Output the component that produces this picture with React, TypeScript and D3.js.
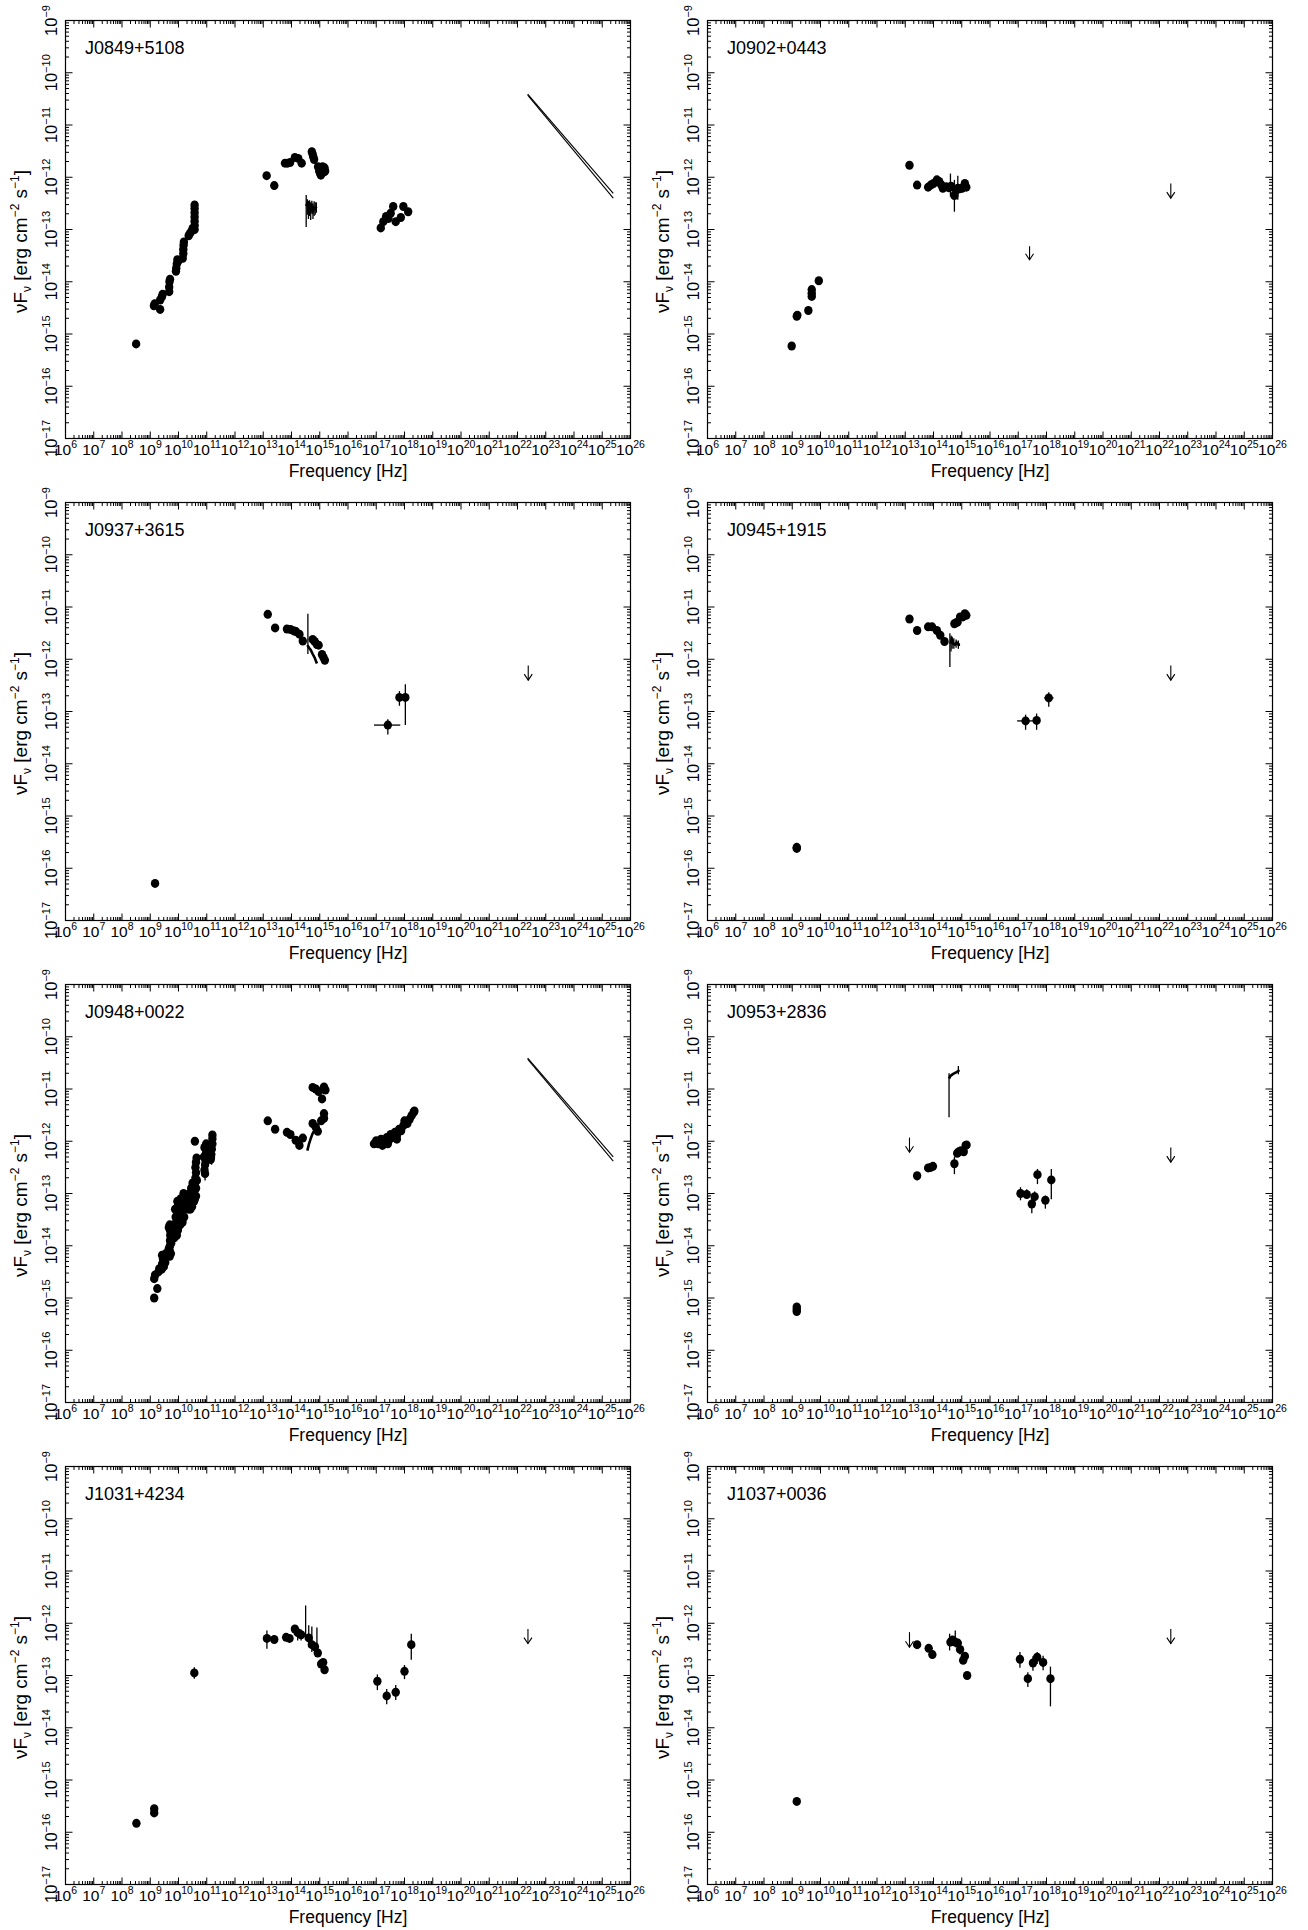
import React from "react";
import * as d3 from "d3";

// ---------------- tick labels ----------------
const X_EXPONENTS = [6, 7, 8, 9, 10, 11, 12, 13, 14, 15, 16, 17, 18, 19, 20, 21, 22, 23, 24, 25, 26];
const Y_EXPONENTS = [-9, -10, -11, -12, -13, -14, -15, -16, -17];
const MINOR_MULT = [2, 3, 4, 5, 6, 7, 8, 9];

const SOURCE_NAMES = [
  "J0849+5108", "J0902+0443", "J0937+3615", "J0945+1915",
  "J0948+0022", "J0953+2836", "J1031+4234", "J1037+0036",
];

// All values are [log10(nu/Hz), log10(nuFnu)]
// VERR: [logNu, logTop, logBottom]; HERR: [logF, logNuLo, logNuHi]
// SPEC: polyline; UL: [logNu, logTop, logTip]; BOW: line pairs

// ---------- J0849+5108 ----------
const J0849_DOTS: number[][] = [
  [8.5, -15.19],
  [9.13, -14.46], [9.16, -14.42], [9.35, -14.53], [9.35, -14.35], [9.41, -14.29], [9.44, -14.24],
  [9.67, -14.19], [9.67, -14.1], [9.68, -14.0], [9.7, -13.95],
  [9.91, -13.8], [9.92, -13.74], [9.94, -13.66], [9.96, -13.58], [10.0, -13.6],
  [10.15, -13.55], [10.17, -13.46], [10.17, -13.38], [10.18, -13.3], [10.19, -13.24],
  [10.36, -13.12], [10.4, -13.08], [10.45, -13.04], [10.5, -12.98],
  [10.57, -13.0], [10.57, -12.92], [10.57, -12.84], [10.57, -12.76], [10.57, -12.68], [10.57, -12.6], [10.57, -12.53],
  [13.12, -11.97], [13.39, -12.16], [13.77, -11.73], [13.86, -11.73], [13.95, -11.72],
  [14.12, -11.62], [14.24, -11.64], [14.36, -11.73],
  [14.72, -11.51], [14.75, -11.56], [14.77, -11.61], [14.8, -11.66],
  [14.94, -11.8], [14.98, -11.88], [15.02, -11.93], [15.06, -11.85], [15.1, -11.8],
  [15.14, -11.9], [15.17, -11.82], [15.19, -11.88], [15.04, -11.96],
  [17.16, -12.97], [17.25, -12.85], [17.35, -12.75], [17.43, -12.79], [17.51, -12.69],
  [17.6, -12.56], [17.69, -12.85], [17.87, -12.77], [17.96, -12.56], [18.13, -12.66],
];
const J0849_VERR: number[][] = [
  [14.52, -12.34, -12.95], [14.56, -12.42, -12.72], [14.6, -12.45, -12.8], [14.64, -12.44, -12.74],
  [14.68, -12.48, -12.82], [14.72, -12.45, -12.7], [14.76, -12.5, -12.8], [14.8, -12.46, -12.74],
  [14.84, -12.48, -12.72], [14.88, -12.48, -12.68],
];
const J0849_HERR: number[][] = [];
const J0849_SPEC: number[][] = [
  [14.52, -12.55], [14.56, -12.5], [14.6, -12.6], [14.64, -12.55], [14.68, -12.62],
  [14.72, -12.56], [14.76, -12.64], [14.8, -12.58], [14.84, -12.6], [14.88, -12.56],
];
const J0849_UL: number[][] = [];
const J0849_BOW: number[][][] = [
  [[22.36, -10.41], [25.39, -12.31]],
  [[22.36, -10.43], [25.39, -12.4]],
];

// ---------- J0902+0443 ----------
const J0902_DOTS: number[][] = [
  [8.98, -15.23], [9.16, -14.66], [9.18, -14.64], [9.57, -14.55],
  [9.69, -14.15], [9.69, -14.22], [9.69, -14.28], [9.94, -13.98],
  [13.15, -11.77], [13.42, -12.15], [13.81, -12.19], [13.9, -12.15], [14.0, -12.12],
  [14.12, -12.05], [14.2, -12.08], [14.27, -12.14], [14.33, -12.21], [14.45, -12.18],
  [14.55, -12.2], [14.62, -12.17], [14.74, -12.35], [14.8, -12.25], [14.86, -12.21],
  [14.93, -12.22], [15.01, -12.21], [15.08, -12.18], [15.11, -12.12], [15.16, -12.19],
];
const J0902_VERR: number[][] = [
  [14.6, -11.93, -12.37], [14.74, -12.05, -12.66], [14.86, -11.97, -12.43],
];
const J0902_HERR: number[][] = [];
const J0902_SPEC: number[][] = [];
const J0902_UL: number[][] = [
  [17.4, -13.32, -13.58], [22.4, -12.12, -12.4],
];
const J0902_BOW: number[][][] = [];

// ---------- J0937+3615 ----------
const J0937_DOTS: number[][] = [
  [9.17, -16.29],
  [13.16, -11.14], [13.42, -11.4], [13.84, -11.42], [13.97, -11.43], [14.1, -11.46],
  [14.16, -11.47], [14.28, -11.52], [14.4, -11.65], [14.75, -11.62], [14.82, -11.66],
  [14.9, -11.72], [14.96, -11.73], [15.08, -11.91], [15.13, -11.96], [15.18, -12.02],
  [17.41, -13.26], [17.82, -12.73], [18.03, -12.73],
];
const J0937_VERR: number[][] = [
  [14.58, -11.13, -11.9],
  [17.41, -13.15, -13.44], [17.82, -12.61, -12.89], [18.03, -12.48, -13.26],
];
const J0937_HERR: number[][] = [
  [-13.26, 16.92, 17.85], [-12.73, 17.74, 17.9],
];
const J0937_SPEC: number[][] = [
  [14.56, -11.73], [14.62, -11.78], [14.68, -11.82], [14.75, -11.9], [14.82, -11.97], [14.9, -12.08],
];
const J0937_UL: number[][] = [[22.38, -12.12, -12.4]];
const J0937_BOW: number[][][] = [];

// ---------- J0945+1915 ----------
const J0945_DOTS: number[][] = [
  [9.16, -15.62], [9.16, -15.6],
  [13.15, -11.23], [13.42, -11.45], [13.81, -11.38], [13.95, -11.38], [14.12, -11.45],
  [14.24, -11.54], [14.39, -11.66], [14.74, -11.32], [14.8, -11.3], [14.85, -11.29],
  [14.94, -11.19], [15.04, -11.19], [15.11, -11.13], [15.16, -11.16],
  [17.26, -13.18], [17.65, -13.17], [18.08, -12.74],
];
const J0945_VERR: number[][] = [
  [14.58, -11.5, -12.15], [14.62, -11.55, -11.85], [14.66, -11.58, -11.8], [14.72, -11.6, -11.8],
  [14.8, -11.62, -11.78], [14.88, -11.64, -11.8],
  [17.26, -13.06, -13.35], [17.65, -13.04, -13.35], [18.08, -12.63, -12.91],
];
const J0945_HERR: number[][] = [
  [-13.18, 16.96, 17.56], [-12.74, 17.92, 18.25],
];
const J0945_SPEC: number[][] = [
  [14.6, -11.7], [14.65, -11.62], [14.7, -11.7], [14.76, -11.72], [14.82, -11.68], [14.88, -11.72], [14.94, -11.72],
];
const J0945_UL: number[][] = [[22.4, -12.12, -12.4]];
const J0945_BOW: number[][][] = [];

// ---------- J0948+0022 ----------
const J0948_DOTS: number[][] = [
  [9.14, -15.0], [9.25, -14.82], [9.14, -14.63], [9.17, -14.56], [9.29, -14.5], [9.32, -14.44],
  [9.4, -14.45], [9.45, -14.38], [9.5, -14.3], [9.52, -14.22], [9.55, -14.15], [9.45, -14.25],
  [9.42, -14.35], [9.48, -14.4], [9.5, -14.2], [9.53, -14.32], [9.42, -14.18],
  [9.69, -14.2], [9.69, -14.1], [9.7, -14.0], [9.7, -13.9], [9.71, -13.8], [9.7, -13.7], [9.69, -13.6],
  [9.66, -13.65], [9.73, -13.75], [9.74, -13.95], [9.66, -14.05], [9.73, -14.15], [9.74, -13.62],
  [9.85, -13.85], [9.88, -13.75], [9.9, -13.65], [9.92, -13.55], [9.93, -13.45], [9.95, -13.35], [9.97, -13.25], [9.96, -13.15],
  [9.86, -13.6], [9.9, -13.45], [9.94, -13.8], [9.98, -13.5], [10.0, -13.35], [9.88, -13.3], [9.98, -13.7],
  [10.06, -13.6], [10.08, -13.5], [10.1, -13.4], [10.12, -13.3], [10.15, -13.2], [10.17, -13.1], [10.18, -13.0], [10.2, -13.45], [10.14, -13.55],
  [10.05, -13.35], [10.1, -13.2], [10.15, -13.45], [10.2, -13.3], [10.22, -13.15], [10.24, -13.05], [10.08, -13.1],
  [10.35, -13.3], [10.4, -13.2], [10.45, -13.1], [10.5, -13.0], [10.55, -12.9], [10.58, -12.8], [10.6, -12.7], [10.62, -12.6],
  [10.48, -13.25], [10.55, -13.15], [10.62, -13.05], [10.58, -12.0],
  [10.3, -13.2], [10.35, -13.1], [10.4, -13.0], [10.45, -12.9], [10.5, -12.8], [10.52, -13.15], [10.58, -13.1],
  [10.62, -12.9], [10.65, -12.75], [10.6, -12.5], [10.62, -12.4], [10.64, -12.32], [10.42, -13.3],
  [10.92, -12.55], [10.94, -12.45], [10.95, -12.35], [10.96, -12.25], [10.97, -12.15], [10.98, -12.05], [10.94, -12.62],
  [10.9, -12.3], [10.92, -12.12],
  [11.14, -12.35], [11.16, -12.25], [11.18, -12.15], [11.2, -12.05], [11.2, -11.95], [11.2, -11.88], [11.15, -12.3],
  [11.12, -12.18], [11.17, -12.05],
  [13.16, -11.61], [13.42, -11.77], [13.84, -11.83], [13.96, -11.87], [14.15, -11.98], [14.28, -12.08], [14.4, -11.94],
  [14.75, -11.66], [14.86, -11.73], [14.93, -11.81], [15.05, -11.61], [15.15, -11.56], [15.15, -11.47],
  [14.75, -10.97], [14.86, -11.0], [14.96, -11.05], [15.08, -11.19], [15.15, -10.96], [15.2, -11.02],
  [16.92, -12.05], [17.0, -11.99], [17.07, -12.05], [17.17, -11.96], [17.22, -12.08], [17.26, -12.02],
  [17.37, -11.93], [17.41, -12.05], [17.44, -11.99], [17.51, -11.87], [17.59, -11.93], [17.66, -11.83],
  [17.73, -11.89], [17.73, -11.96], [17.81, -11.77], [17.88, -11.8], [17.96, -11.7], [18.0, -11.61],
  [18.1, -11.66], [18.18, -11.58], [18.25, -11.51], [18.32, -11.45], [18.35, -11.42],
];
const J0948_VERR: number[][] = [
  [10.94, -12.5, -12.75], [11.17, -12.2, -12.45],
];
const J0948_HERR: number[][] = [];
const J0948_SPEC: number[][] = [
  [14.56, -12.18], [14.62, -12.05], [14.68, -11.95], [14.74, -11.86], [14.8, -11.8],
];
const J0948_UL: number[][] = [];
const J0948_BOW: number[][][] = [
  [[22.36, -10.41], [25.39, -12.3]],
  [[22.36, -10.43], [25.39, -12.38]],
];

// ---------- J0953+2836 ----------
const J0953_DOTS: number[][] = [
  [9.16, -15.17], [9.16, -15.22], [9.16, -15.26],
  [13.42, -12.66], [13.81, -12.51], [13.9, -12.5], [13.98, -12.48],
  [14.74, -12.43], [14.84, -12.23], [14.9, -12.2], [14.97, -12.18], [15.07, -12.2], [15.14, -12.08], [15.17, -12.07],
  [17.08, -13.0], [17.3, -13.02], [17.48, -13.2], [17.58, -13.06], [17.68, -12.64], [17.96, -13.13], [18.17, -12.74],
];
const J0953_VERR: number[][] = [
  [14.55, -10.7, -11.54], [14.88, -10.56, -10.72], [14.74, -12.3, -12.63], [13.42, -12.6, -12.75],
  [17.08, -12.88, -13.13], [17.3, -12.92, -13.1], [17.48, -13.06, -13.38], [17.58, -12.96, -13.2],
  [17.68, -12.53, -12.82], [17.96, -13.04, -13.29], [18.17, -12.53, -13.11],
];
const J0953_HERR: number[][] = [
  [-13.0, 16.98, 17.2], [-13.13, 17.86, 18.06],
];
const J0953_SPEC: number[][] = [
  [14.55, -10.8], [14.6, -10.75], [14.67, -10.72], [14.73, -10.7], [14.8, -10.68], [14.86, -10.66], [14.92, -10.64],
];
const J0953_UL: number[][] = [[13.15, -11.93, -12.21], [22.4, -12.12, -12.4]];
const J0953_BOW: number[][][] = [];

// ---------- J1031+4234 ----------
const J1031_DOTS: number[][] = [
  [8.51, -15.83], [9.14, -15.55], [9.14, -15.63], [10.56, -12.95],
  [13.13, -12.29], [13.39, -12.31], [13.81, -12.27], [13.93, -12.29], [14.12, -12.11],
  [14.22, -12.18], [14.34, -12.22], [14.61, -12.28], [14.72, -12.41], [14.83, -12.45],
  [14.93, -12.57], [15.05, -12.78], [15.12, -12.75], [15.17, -12.89],
  [17.04, -13.11], [17.37, -13.39], [17.69, -13.32], [18.0, -12.92], [18.24, -12.41],
];
const J1031_VERR: number[][] = [
  [10.56, -12.84, -13.06], [13.13, -12.14, -12.49], [14.5, -11.66, -12.27], [14.61, -12.04, -12.46],
  [14.72, -12.06, -12.55], [14.9, -12.08, -12.49], [14.22, -12.11, -12.33], [14.34, -12.12, -12.33],
  [17.04, -12.98, -13.28], [17.37, -13.26, -13.55], [17.69, -13.18, -13.47], [18.0, -12.8, -13.07], [18.24, -12.2, -12.7],
];
const J1031_HERR: number[][] = [
  [-13.11, 16.92, 17.15], [-13.39, 17.25, 17.5], [-13.32, 17.55, 17.82], [-12.92, 17.88, 18.1],
];
const J1031_SPEC: number[][] = [];
const J1031_UL: number[][] = [[22.37, -12.11, -12.39]];
const J1031_BOW: number[][][] = [];

// ---------- J1037+0036 ----------
const J1037_DOTS: number[][] = [
  [9.16, -15.41],
  [13.42, -12.41], [13.83, -12.48], [13.96, -12.6], [14.6, -12.36], [14.67, -12.32],
  [14.77, -12.36], [14.86, -12.38], [14.94, -12.5], [15.05, -12.71], [15.11, -12.63], [15.19, -13.0],
  [17.06, -12.69], [17.34, -13.06], [17.52, -12.76], [17.67, -12.65], [17.88, -12.75], [18.14, -13.06],
];
const J1037_VERR: number[][] = [
  [14.57, -12.2, -12.52], [14.77, -12.14, -12.46], [14.94, -12.42, -12.6], [15.11, -12.56, -12.72],
  [17.06, -12.55, -12.85], [17.34, -12.94, -13.22], [17.52, -12.63, -12.91], [17.67, -12.55, -12.78],
  [17.88, -12.62, -12.9], [18.14, -12.83, -13.59],
];
const J1037_HERR: number[][] = [[-12.69, 16.95, 17.18]];
const J1037_SPEC: number[][] = [];
const J1037_UL: number[][] = [[13.15, -12.17, -12.46], [22.4, -12.11, -12.39]];
const J1037_BOW: number[][][] = [];

const PANELS = [
  { name: SOURCE_NAMES[0], dots: J0849_DOTS, verr: J0849_VERR, herr: J0849_HERR, spec: J0849_SPEC, ul: J0849_UL, bow: J0849_BOW },
  { name: SOURCE_NAMES[1], dots: J0902_DOTS, verr: J0902_VERR, herr: J0902_HERR, spec: J0902_SPEC, ul: J0902_UL, bow: J0902_BOW },
  { name: SOURCE_NAMES[2], dots: J0937_DOTS, verr: J0937_VERR, herr: J0937_HERR, spec: J0937_SPEC, ul: J0937_UL, bow: J0937_BOW },
  { name: SOURCE_NAMES[3], dots: J0945_DOTS, verr: J0945_VERR, herr: J0945_HERR, spec: J0945_SPEC, ul: J0945_UL, bow: J0945_BOW },
  { name: SOURCE_NAMES[4], dots: J0948_DOTS, verr: J0948_VERR, herr: J0948_HERR, spec: J0948_SPEC, ul: J0948_UL, bow: J0948_BOW },
  { name: SOURCE_NAMES[5], dots: J0953_DOTS, verr: J0953_VERR, herr: J0953_HERR, spec: J0953_SPEC, ul: J0953_UL, bow: J0953_BOW },
  { name: SOURCE_NAMES[6], dots: J1031_DOTS, verr: J1031_VERR, herr: J1031_HERR, spec: J1031_SPEC, ul: J1031_UL, bow: J1031_BOW },
  { name: SOURCE_NAMES[7], dots: J1037_DOTS, verr: J1037_VERR, herr: J1037_HERR, spec: J1037_SPEC, ul: J1037_UL, bow: J1037_BOW },
];

// ---------------- layout ----------------
const W = 1308;
const H = 1930;
const PLOT_LEFT = [65.5, 707.5];
const PLOT_TOP0 = 20.5;
const ROW_STEP = 482;
const PLOT_W = 565;
const PLOT_H = 418;
const FONT = "'Liberation Sans', Arial, Helvetica, sans-serif";

const p10 = (v: number) => Math.pow(10, v);
const SUPMINUS = "\u2212";

function Panel({ idx }: { idx: number }) {
  const p = PANELS[idx];
  const col = idx % 2;
  const row = Math.floor(idx / 2);
  const x0 = PLOT_LEFT[col];
  const y0 = PLOT_TOP0 + row * ROW_STEP;
  const x = d3.scaleLog().domain([1e6, 1e26]).range([x0, x0 + PLOT_W]);
  const y = d3.scaleLog().domain([1e-17, 1e-9]).range([y0 + PLOT_H, y0]);
  const yb = y0 + PLOT_H;
  const xr = x0 + PLOT_W;

  const xMinor: number[] = [];
  X_EXPONENTS.slice(0, -1).forEach((e) => MINOR_MULT.forEach((m) => xMinor.push(m * p10(e))));
  const yMinor: number[] = [];
  Y_EXPONENTS.slice(1).forEach((e) => MINOR_MULT.forEach((m) => yMinor.push(m * p10(e))));

  const line = d3.line<number[]>().x((d) => x(p10(d[0]))).y((d) => y(p10(d[1])));

  const MAJ = 7;
  const MIN = 3.5;

  return (
    <g>
      {/* ticks */}
      <g stroke="#000" strokeWidth={1}>
        {X_EXPONENTS.map((e) => (
          <g key={"xM" + e}>
            <line x1={x(p10(e))} x2={x(p10(e))} y1={yb} y2={yb - MAJ} />
            <line x1={x(p10(e))} x2={x(p10(e))} y1={y0} y2={y0 + MAJ} />
          </g>
        ))}
        {xMinor.map((v, i) => (
          <g key={"xm" + i}>
            <line x1={x(v)} x2={x(v)} y1={yb} y2={yb - MIN} />
            <line x1={x(v)} x2={x(v)} y1={y0} y2={y0 + MIN} />
          </g>
        ))}
        {Y_EXPONENTS.map((e) => (
          <g key={"yM" + e}>
            <line x1={x0} x2={x0 + MAJ} y1={y(p10(e))} y2={y(p10(e))} />
            <line x1={xr} x2={xr - MAJ} y1={y(p10(e))} y2={y(p10(e))} />
          </g>
        ))}
        {yMinor.map((v, i) => (
          <g key={"ym" + i}>
            <line x1={x0} x2={x0 + MIN} y1={y(v)} y2={y(v)} />
            <line x1={xr} x2={xr - MIN} y1={y(v)} y2={y(v)} />
          </g>
        ))}
      </g>
      <rect x={x0} y={y0} width={PLOT_W} height={PLOT_H} fill="none" stroke="#000" strokeWidth={1.2} />

      {/* tick labels */}
      <g fontFamily={FONT} fill="#000">
        {X_EXPONENTS.map((e) => (
          <text key={"xl" + e} x={x(p10(e))} y={yb + 16} textAnchor="middle" fontSize={15.5}>
            10<tspan fontSize={10.5} dy={-6.5}>{e}</tspan>
          </text>
        ))}
        {Y_EXPONENTS.map((e) => (
          <text
            key={"yl" + e}
            transform={`translate(${x0 - 8.5},${y(p10(e))}) rotate(-90)`}
            textAnchor="middle"
            fontSize={16.5}
          >
            10<tspan fontSize={11} dy={-7}>{SUPMINUS + Math.abs(e)}</tspan>
          </text>
        ))}
      </g>

      {/* axis titles */}
      <text x={(x0 + xr) / 2} y={yb + 38.5} textAnchor="middle" fontFamily={FONT} fontSize={17.5}>
        Frequency [Hz]
      </text>
      <text
        transform={`translate(${x0 - 39},${y0 + 221}) rotate(-90)`}
        textAnchor="middle"
        fontFamily={FONT}
        fontSize={19}
      >
        νF<tspan fontSize={12} dy={4}>ν</tspan>
        <tspan dy={-4}> [erg cm</tspan>
        <tspan fontSize={12} dy={-7.5}>{SUPMINUS}2</tspan>
        <tspan dy={7.5}> s</tspan>
        <tspan fontSize={12} dy={-7.5}>{SUPMINUS}1</tspan>
        <tspan dy={7.5}>]</tspan>
      </text>

      {/* title */}
      <text x={x0 + 19.5} y={y0 + 33} fontFamily={FONT} fontSize={18}>
        {p.name}
      </text>

      {/* data */}
      <g stroke="#000" fill="none">
        {p.verr.map((d, i) => (
          <line key={"ve" + i} x1={x(p10(d[0]))} x2={x(p10(d[0]))} y1={y(p10(d[1]))} y2={y(p10(d[2]))} strokeWidth={1.3} />
        ))}
        {p.herr.map((d, i) => (
          <line key={"he" + i} x1={x(p10(d[1]))} x2={x(p10(d[2]))} y1={y(p10(d[0]))} y2={y(p10(d[0]))} strokeWidth={1.3} />
        ))}
        {p.spec.length > 0 && <path d={line(p.spec) || ""} strokeWidth={2.6} />}
        {p.bow.map((seg, i) => (
          <path key={"bw" + i} d={line(seg) || ""} strokeWidth={1.1} />
        ))}
        {p.ul.map((d, i) => {
          const ux = x(p10(d[0]));
          const ut = y(p10(d[1]));
          const tip = y(p10(d[2]));
          return (
            <g key={"ul" + i} strokeWidth={1.1}>
              <line x1={ux} x2={ux} y1={ut} y2={tip} />
              <polyline points={`${ux - 4},${tip - 6} ${ux},${tip} ${ux + 4},${tip - 6}`} />
            </g>
          );
        })}
      </g>
      <g fill="#000">
        {p.dots.map((d, i) => (
          <ellipse key={"d" + i} cx={x(p10(d[0]))} cy={y(p10(d[1]))} rx={4.2} ry={4.5} />
        ))}
      </g>
    </g>
  );
}

export default function App() {
  return (
    <svg
      width={W}
      height={H}
      viewBox={`0 0 ${W} ${H}`}
      style={{ position: "absolute", left: 0, top: 0, background: "#fff" }}
    >
      <rect x={0} y={0} width={W} height={H} fill="#fff" />
      {PANELS.map((_, i) => (
        <Panel key={i} idx={i} />
      ))}
    </svg>
  );
}
